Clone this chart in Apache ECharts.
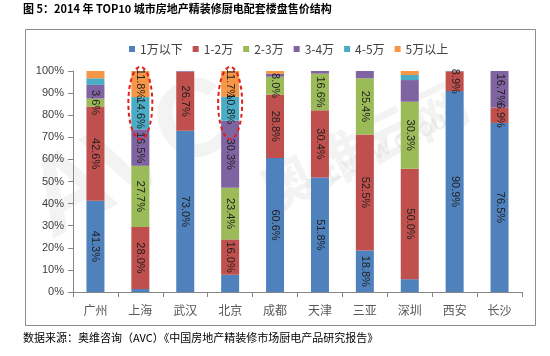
<!DOCTYPE html>
<html><head><meta charset="utf-8">
<script src="https://cdn.jsdelivr.net/npm/echarts@6/dist/echarts.min.js"></script>
<style>html,body{margin:0;padding:0;background:#fff}#c{width:550px;height:356px}</style>
</head><body><div id="c"></div>
<script>
const titleText = '图 5：2014 年 TOP10 城市房地产精装修厨电配套楼盘售价结构';
const sourceText = '数据来源：奥维咨询（AVC）《中国房地产精装修市场厨电产品研究报告》';
const categories = ['广州','上海','武汉','北京','成都','天津','三亚','深圳','西安','长沙'];
const seriesNames = ['1万以下','1-2万','2-3万','3-4万','4-5万','5万以上'];
const yTicks = ['0%','10%','20%','30%','40%','50%','60%','70%','80%','90%','100%'];
const below1w  = [41.3, 1.4, 73.0, 7.8, 60.6, 51.8, 18.8, 5.8, 90.9, 76.5];
const w1to2    = [42.6, 28.0, 26.7, 16.0, 28.8, 30.4, 52.5, 50.0, 8.9, 6.9];
const w2to3    = [3.6, 27.7, 0, 23.4, 8.0, 16.6, 25.4, 30.3, 0, 0];
const w3to4    = [6.2, 16.5, 0.3, 30.3, 1.3, 1.2, 3.3, 9.8, 0.2, 16.7];
const w4to5    = [3.0, 14.6, 0, 10.8, 0, 0, 0, 2.3, 0, 0];
const above5w  = [3.3, 11.8, 0, 11.7, 1.3, 0, 0, 1.8, 0, 0];
// which segments carry a printed value label
const labelShown = [
  [1,0,1,0,1,1,1,0,1,1],
  [1,1,1,1,1,1,1,1,1,1],
  [1,1,0,1,1,1,1,1,0,0],
  [0,1,0,1,0,0,0,0,0,1],
  [0,1,0,1,0,0,0,0,0,0],
  [0,1,0,1,0,0,0,0,0,0]
];
const allValues = [below1w, w1to2, w2to3, w3to4, w4to5, above5w];
const colors = ['#4f81bd','#c0504d','#9bbb59','#8064a2','#4bacc6','#f79646'];

const chart = echarts.init(document.getElementById('c'), null, {renderer:'canvas'});
const series = seriesNames.map((name, si) => ({
  name, type: 'bar', stack: 'total', barWidth: 18,
  itemStyle: {color: colors[si]},
  label: {show: false},
  data: allValues[si].map((v, ci) => ({
    value: v,
    label: {
      show: !!labelShown[si][ci], position: 'inside', rotate: -90,
      formatter: p => p.value.toFixed(1) + '%',
      color: '#1f1f1f', fontSize: 11, fontFamily: 'Liberation Sans, Arial'
    }
  }))
}));

chart.setOption({
  animation: false,
  color: colors,
  grid: {left: 73, right: 28, top: 71, bottom: 64},
  legend: {
    left: 124, top: 38, itemWidth: 6, itemHeight: 6, itemGap: 10,
    icon: 'rect',
    textStyle: {fontSize: 12, color: '#404040', fontFamily: 'Noto Sans CJK SC'},
    data: seriesNames
  },
  xAxis: {
    type: 'category', data: categories,
    axisLine: {lineStyle: {color: '#868686'}},
    axisTick: {show: true, length: 5, lineStyle: {color: '#868686'}},
    axisLabel: {fontSize: 12, color: '#595959', margin: 12, fontFamily: 'Noto Sans CJK SC'}
  },
  yAxis: {
    type: 'value', min: 0, max: 100, interval: 10,
    axisLine: {show: true, lineStyle: {color: '#868686'}},
    axisTick: {show: true, length: 5, lineStyle: {color: '#868686'}},
    splitLine: {show: false},
    axisLabel: {fontSize: 11, color: '#404040', margin: 9, fontFamily: 'Liberation Sans, Arial',
      formatter: v => yTicks[Math.round(v / 10)]}
  },
  series
});

function place() {
  const sh1 = chart.convertToPixel({gridIndex: 0}, [1, 85.5]);
  const bj1 = chart.convertToPixel({gridIndex: 0}, [3, 85.5]);
  const h = chart.convertToPixel({gridIndex: 0}, [0, 70])[1] - chart.convertToPixel({gridIndex: 0}, [0, 100])[1];
  const ell = (c) => ({
    type: 'ellipse', shape: {cx: c[0], cy: c[1], rx: 12, ry: h / 2 + 3},
    style: {fill: 'none', stroke: '#e0201b', lineWidth: 2, lineDash: [4, 3]}, z: 100
  });
  chart.setOption({
    graphic: [
      {type: 'text', left: 10, top: 58, rotation: 0.5, z: 0, silent: true,
       style: {x: 40, y: 250, text: 'AVC', fontSize: 110, fontWeight: 'bold', fill: 'rgba(190,190,190,0.18)', fontFamily: 'Liberation Sans'}},
      {type: 'text', z: 0, silent: true, rotation: 0.45, x: 250, y: 170,
       style: {text: '奥维云网', fontSize: 56, fontWeight: 'bold', fill: 'rgba(190,190,190,0.18)', fontFamily: 'Noto Sans CJK SC'}},
      {type: 'text', z: 0, silent: true, rotation: 0.45, x: 300, y: 180,
       style: {text: 'ALL VIEW CLOUD', fontSize: 20, fontWeight: 'bold', fill: 'rgba(190,190,190,0.22)', fontFamily: 'Liberation Sans'}},
      {type: 'rect', shape: {x: 25.5, y: 29.5, width: 510, height: 296}, style: {fill: 'none', stroke: '#8c8c8c', lineWidth: 1}, z: -1, silent: true},
      {type: 'text', x: 23, y: 3, style: {text: titleText, fontSize: 11, fontWeight: 'bold', fill: '#000', fontFamily: 'Noto Sans CJK SC'}},
      {type: 'text', x: 23, y: 332, style: {text: sourceText, fontSize: 11, fill: '#000', fontFamily: 'Noto Sans CJK SC'}},
      ell(sh1), ell(bj1)
    ]
  });
}
place();
</script></body></html>
